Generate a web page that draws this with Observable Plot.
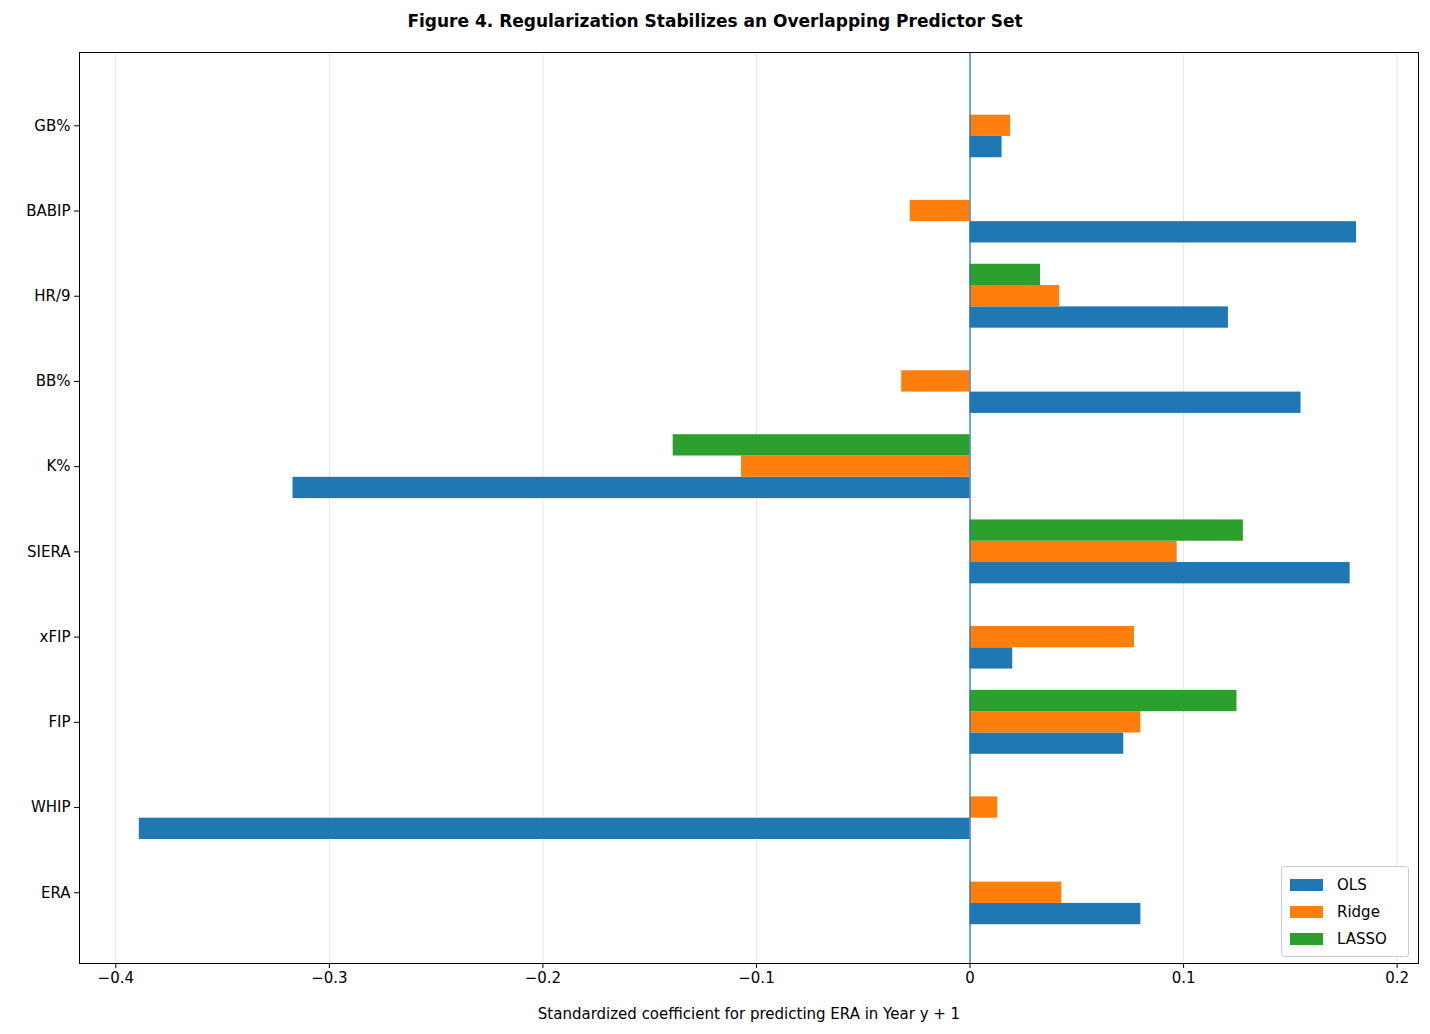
<!DOCTYPE html>
<html><head><meta charset="utf-8">
<script src="https://cdn.jsdelivr.net/npm/d3@7"></script>
<script src="https://cdn.jsdelivr.net/npm/@observablehq/plot@0.6"></script>
<style>
body{margin:0;background:#fff;font-family:"DejaVu Sans",sans-serif;}
#wrap{position:relative;width:1430px;height:1034px;}
#title{position:absolute;top:11px;left:0;width:1430px;text-align:center;font-weight:bold;font-size:17px;}
#legend{position:absolute;left:1281px;top:866px;width:126px;border:1px solid #ccc;border-radius:3px;background:#fff;font-size:15px;padding:4px 0;}
#legend div{display:flex;align-items:center;height:27px;padding-left:8px;}
#legend span.sw{display:inline-block;width:33px;height:12px;margin-right:14px;}
</style></head><body>
<div id="wrap"><div id="title">Figure 4. Regularization Stabilizes an Overlapping Predictor Set</div><div id="chart"></div><div id="legend"></div></div>
<script>
const categories = ["ERA","WHIP","FIP","xFIP","SIERA","K%","BB%","HR/9","BABIP","GB%"];
const models = ["OLS","Ridge","LASSO"];
const colors = ["#1f77b4","#ff7f0e","#2ca02c"];
const ols   = [0.080,-0.389,0.072,0.020,0.178,-0.317,0.155,0.121,0.181,0.015];
const ridge = [0.043,0.013,0.080,0.077,0.097,-0.107,-0.032,0.042,-0.028,0.019];
const lasso = [0,0,0.125,0,0.128,-0.139,0,0.033,0,0];
const series = [ols, ridge, lasso];
const offsets = [-0.25, 0, 0.25];
const rows = [];
series.forEach((vals, m) => vals.forEach((v, i) => {
  rows.push({model: models[m], value: v, y1: i + offsets[m] - 0.125, y2: i + offsets[m] + 0.125});
}));
const chart = Plot.plot({
  width: 1430, height: 1034,
  marginLeft: 79, marginRight: 12, marginTop: 52, marginBottom: 71,
  style: {fontFamily: "DejaVu Sans, sans-serif", fontSize: "15px", color: "#000"},
  x: {domain: [-0.417, 0.210], ticks: [-0.4,-0.3,-0.2,-0.1,0,0.1,0.2], tickFormat: d => d === 0 ? "0" : d3.format(".1f")(d).replace("-", "\u2212"), label: "Standardized coefficient for predicting ERA in Year y + 1", labelAnchor: "center", labelArrow: "none", labelOffset: 55, tickSize: 5},
  y: {domain: [-0.83, 9.86], ticks: d3.range(10), tickFormat: i => categories[i], label: null, tickSize: 5},
  color: {domain: models, range: colors},
  marks: [
    Plot.gridX([-0.4,-0.3,-0.2,-0.1,0,0.1,0.2], {stroke: "#e6e6e6", strokeOpacity: 1}),
    Plot.rectX(rows, {x1: 0, x2: "value", y1: "y1", y2: "y2", fill: "model"}),
    Plot.ruleX([0], {stroke: "#1f77b4", strokeWidth: 1.2}),
    Plot.frame({stroke: "#000"})
  ]
});
document.getElementById("chart").appendChild(chart);
const lg = document.getElementById("legend");
models.forEach((m, k) => { const d = document.createElement("div"); d.innerHTML = `<span class="sw" style="background:${colors[k]}"></span>${m}`; lg.appendChild(d); });
</script>
</body></html>
